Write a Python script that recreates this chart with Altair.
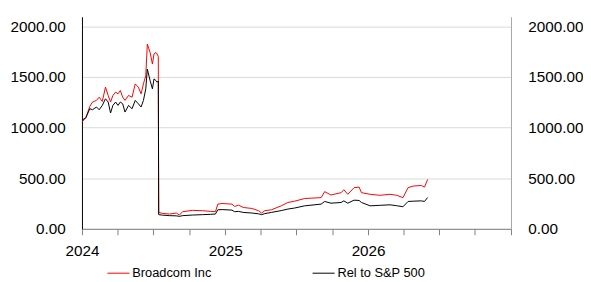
import altair as alt
import pandas as pd

dates = [
    "2024-01-01", "2024-01-11", "2024-01-21", "2024-01-28", "2024-02-07", "2024-02-14",
    "2024-02-22", "2024-03-01", "2024-03-08", "2024-03-14", "2024-03-20", "2024-03-27",
    "2024-04-02", "2024-04-08", "2024-04-14", "2024-04-20", "2024-04-29", "2024-05-08",
    "2024-05-16", "2024-05-24", "2024-05-31", "2024-06-06", "2024-06-12", "2024-06-16",
    "2024-06-23", "2024-06-29", "2024-07-03", "2024-07-08", "2024-07-11", "2024-07-14",
    "2024-07-15", "2024-07-25", "2024-08-12", "2024-08-29", "2024-09-06", "2024-09-14",
    "2024-10-09", "2024-11-04", "2024-11-25", "2024-12-07", "2024-12-13", "2024-12-24",
    "2025-01-18", "2025-01-25", "2025-02-04", "2025-02-16", "2025-03-10", "2025-03-27",
    "2025-04-04", "2025-04-12", "2025-04-29", "2025-05-24", "2025-06-10", "2025-06-27",
    "2025-07-23", "2025-09-03", "2025-09-12", "2025-09-28", "2025-10-24", "2025-10-31",
    "2025-11-10", "2025-11-26", "2025-12-09", "2025-12-15", "2026-01-06", "2026-01-31",
    "2026-02-26", "2026-03-15", "2026-03-31", "2026-04-13", "2026-04-26", "2026-05-17",
    "2026-05-25", "2026-06-02",
]
broadcom = [
    1055, 1098, 1209, 1252, 1268, 1300,
    1258, 1399, 1317, 1252, 1317, 1350,
    1333, 1366, 1300, 1268, 1317, 1300,
    1431, 1399, 1333, 1431, 1513, 1824,
    1742, 1627, 1726, 1742, 1726, 1700,
    162, 152, 146, 156, 136, 169,
    182, 179, 172, 169, 244, 250,
    244, 221, 234, 211, 201, 179,
    156, 179, 188, 227, 260, 273,
    299, 308, 367, 334, 357, 386,
    341, 406, 412, 357, 341, 331,
    341, 331, 308, 406, 422, 428,
    412, 487,
]
rel_sp500 = [
    1072, 1098, 1186, 1176, 1203, 1176,
    1219, 1284, 1252, 1144, 1219, 1252,
    1219, 1252, 1235, 1153, 1219, 1186,
    1268, 1235, 1203, 1268, 1382, 1578,
    1464, 1382, 1480, 1464, 1448, 1460,
    140, 135, 130, 128, 123, 130,
    136, 140, 143, 146, 188, 190,
    185, 169, 172, 162, 156, 148,
    140, 150, 162, 180, 195, 205,
    227, 244, 270, 253, 260, 276,
    253, 283, 280, 260, 227, 232,
    237, 228, 218, 270, 273, 276,
    270, 309,
]
series_names = ["Broadcom Inc", "Rel to S&P 500"]
series_colors = ["#ff0000", "#000000"]
y_ticks = [0, 500, 1000, 1500, 2000]
x_ticks = [f"{y}-{m:02d}-01" for y in (2024, 2025, 2026) for m in (1, 4, 7, 10)] + ["2027-01-01"]

df = pd.concat([
    pd.DataFrame({"date": dates, "value": broadcom, "series": series_names[0]}),
    pd.DataFrame({"date": dates, "value": rel_sp500, "series": series_names[1]}),
])

FONT = "Liberation Sans"
FS = 15.5
x_enc = alt.X(
    "date:T",
    scale=alt.Scale(type="utc", domain=[alt.DateTime(year=2024, month=1, date=1, utc=True),
                                        alt.DateTime(year=2027, month=1, date=1, utc=True)]),
    axis=alt.Axis(
        title=None,
        values=[alt.DateTime(year=int(s[:4]), month=int(s[5:7]), date=1, utc=True) for s in x_ticks],
        labelExpr="utcFormat(datum.value, '%m') == '01' && utcFormat(datum.value, '%Y') != '2027' ? utcFormat(datum.value, '%Y') : ''",
        domainColor="#808080", tickColor="#808080", tickSize=6, labelPadding=9,
        labelFontSize=FS, labelColor="#000000", grid=False, labelFont=FONT,
        labelOverlap=False, labelFlush=False,
    ),
)
y_scale = alt.Scale(domain=[0, 2094], nice=False)

lines = alt.Chart(df).mark_line(strokeWidth=1).encode(
    x=x_enc,
    y=alt.Y("value:Q", scale=y_scale, axis=alt.Axis(
        title=None, values=y_ticks, format=".2f", ticks=False, labelPadding=17,
        domainColor="#000000", gridColor="#d9d9d9", grid=True,
        labelFontSize=FS, labelColor="#000000", labelFont=FONT)),
    color=alt.Color("series:N", scale=alt.Scale(domain=series_names, range=series_colors),
                    legend=alt.Legend(title=None, orient="none", legendX=25, legendY=248,
                                      direction="horizontal", symbolType="stroke",
                                      symbolSize=500, symbolStrokeWidth=1, labelOffset=2,
                                      columnPadding=99, padding=0,
                                      labelFontSize=13, labelFont=FONT, labelColor="#000000")),
)

right = alt.Chart(df).mark_line(strokeOpacity=0).encode(
    x=x_enc,
    y=alt.Y("value:Q", scale=y_scale, axis=alt.Axis(
        title=None, orient="right", values=y_ticks, format=".2f", ticks=False,
        labelPadding=17, domainColor="#a6a6a6", grid=False,
        labelFontSize=FS, labelColor="#000000", labelFont=FONT)),
    detail="series:N",
)

chart = alt.layer(lines, right).resolve_scale(y="independent").properties(
    width=435, height=215,
    autosize=alt.AutoSizeParams(type="none"),
    padding={"left": 75, "top": 7, "right": 73, "bottom": 50},
).configure_view(stroke=None)

chart.save("out.html", embed_options={"renderer": "svg", "actions": False})
